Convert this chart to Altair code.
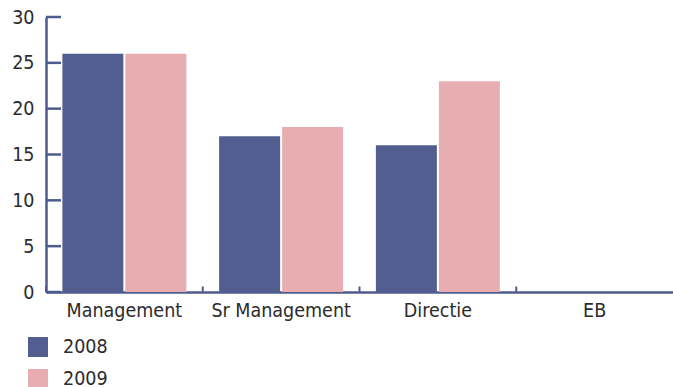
import altair as alt
import pandas as pd

categories = ["Management", "Sr Management", "Directie", "EB"]
years = ["2008", "2009"]
values_2008 = [26, 17, 16, 0]
values_2009 = [26, 18, 23, 0]
y_ticks = [0, 5, 10, 15, 20, 25, 30]
colors = ["#515e8f", "#e8adb1"]

rows = []
for c, a, b in zip(categories, values_2008, values_2009):
    rows.append({"cat": c, "year": years[0], "value": a})
    rows.append({"cat": c, "year": years[1], "value": b})
df = pd.DataFrame(rows)

AXIS = "#4f5b8e"
FONT = "DejaVu Sans Condensed"
TEXT = "#2b2b2b"
FS = 19.5

xscale = alt.Scale(domain=categories, paddingInner=0, paddingOuter=0)
yscale = alt.Scale(domain=[0, 30], nice=False)

bars = alt.Chart(df).mark_bar().encode(
    x=alt.X("cat:N", scale=xscale, sort=categories,
            axis=alt.Axis(title=None, labelAngle=0, ticks=False, domainColor=AXIS,
                          domainWidth=2.5, labelFont=FONT, labelFontSize=FS,
                          labelFontWeight="normal",
                          labelColor=TEXT, labelPadding=9)),
    xOffset=alt.XOffset("year:N", sort=years,
                        scale=alt.Scale(paddingInner=0.032, paddingOuter=0.26)),
    y=alt.Y("value:Q", scale=yscale,
            axis=alt.Axis(title=None, values=y_ticks, ticks=False, grid=False,
                          domainColor=AXIS, domainWidth=2.5, labelFont=FONT,
                          labelFontSize=FS, labelColor=TEXT, labelPadding=12)),
    color=alt.Color("year:N", sort=years,
                    scale=alt.Scale(domain=years, range=colors),
                    legend=alt.Legend(title=None, orient="none", legendX=-18, legendY=320,
                                      symbolType="square", symbolSize=400,
                                      symbolStrokeWidth=0, labelFont=FONT,
                                      labelFontSize=FS, labelColor=TEXT,
                                      labelOffset=15, rowPadding=12, padding=0)),
)

yticks = alt.Chart(pd.DataFrame({"v": y_ticks})).mark_rule(
    color=AXIS, strokeWidth=2.5
).encode(y=alt.Y("v:Q", scale=yscale), x=alt.value(0), x2=alt.value(15))

xticks = alt.Chart(pd.DataFrame({"cat": categories})).mark_rule(
    color=AXIS, strokeWidth=2
).encode(x=alt.X("cat:N", bandPosition=0, sort=categories),
         y=alt.datum(0), y2=alt.datum(0.6))

chart = alt.layer(bars, yticks, xticks).properties(
    width=627, height=275,
    autosize=alt.AutoSizeParams(type="none"),
    padding={"left": 46, "top": 17, "right": 0, "bottom": 95},
).configure_view(stroke=None)

chart.save("out.html", embed_options={"renderer": "svg", "actions": False})
